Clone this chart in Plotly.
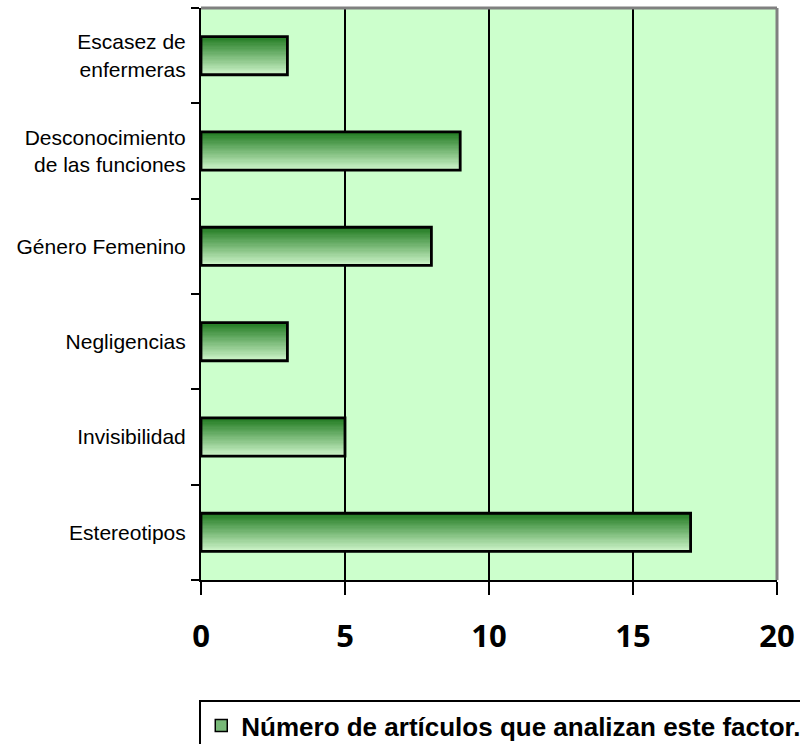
import plotly.graph_objects as go

categories = ["Estereotipos", "Invisibilidad", "Negligencias", "Género Femenino",
              "Desconocimiento<br>de las funciones", "Escasez de<br>enfermeras"]
values = [17, 5, 3, 8, 9, 3]
x_ticks = [0, 5, 10, 15, 20]
series_name = "Número de artículos que analizan este factor."

BAR_W = 0.4
N = 30
top_c = (36, 125, 36)
bot_c = (208, 246, 204)

fig = go.Figure()
sw = BAR_W / N
for k in range(N):
    t = k / (N - 1)  # 0 bottom -> 1 top
    c = tuple(int(round(bot_c[i] + (top_c[i] - bot_c[i]) * t)) for i in range(3))
    fig.add_trace(go.Bar(
        x=values, y=categories, orientation="h",
        width=sw * 1.15, offset=-BAR_W / 2 + k * sw,
        marker=dict(color="rgb(%d,%d,%d)" % c, line=dict(width=0)),
        showlegend=False, hoverinfo="skip"))

fig.add_trace(go.Bar(
    x=values, y=categories, orientation="h", width=BAR_W,
    marker=dict(color="rgba(0,0,0,0)", line=dict(color="black", width=2.8)),
    showlegend=False))

fig.add_trace(go.Bar(
    x=[None], y=[None], orientation="h", name=series_name,
    marker=dict(color="rgb(120,185,120)", line=dict(color="black", width=1.5))))

fig.update_layout(
    width=800, height=744,
    margin=dict(l=201, r=23, t=8, b=164, autoexpand=False),
    paper_bgcolor="white", plot_bgcolor="#CCFFCC",
    barmode="overlay",
    xaxis=dict(range=[0, 20], tickvals=x_ticks, showgrid=True, gridcolor="black",
               gridwidth=2, zeroline=False, showline=True, linecolor="black",
               linewidth=2, ticks="outside", ticklen=13, tickwidth=2, tickcolor="black",
               tickfont=dict(family="Open Sans", size=31, color="black", weight="bold"),
               ticklabelstandoff=15, fixedrange=True),
    yaxis=dict(type="category", categoryorder="array", categoryarray=categories,
               range=[-0.5, 5.5], showgrid=False, zeroline=False, showline=True,
               linecolor="black", linewidth=2, ticks="outside", ticklen=8,
               tickwidth=2, tickcolor="black", tickson="boundaries",
               tickfont=dict(family="Liberation Sans, Arial", size=21, color="black"),
               ticklabelstandoff=9),
    legend=dict(x=-0.003, y=-0.21, xanchor="left", yanchor="top",
                bordercolor="black", borderwidth=2, bgcolor="white",
                font=dict(family="Liberation Sans, Arial", size=26, color="black",
                          weight="bold"),
                itemwidth=30),
    shapes=[
        dict(type="line", xref="paper", yref="paper", x0=0, x1=1, y0=1, y1=1,
             line=dict(color="#808080", width=3), layer="above"),
        dict(type="line", xref="paper", yref="paper", x0=1, x1=1, y0=0, y1=1,
             line=dict(color="#808080", width=3), layer="above"),
    ],
)

fig.write_html(
    "out.html",
    config={"displayModeBar": False},
    post_script="document.body.style.margin='0';document.body.style.overflow='hidden';",
)
